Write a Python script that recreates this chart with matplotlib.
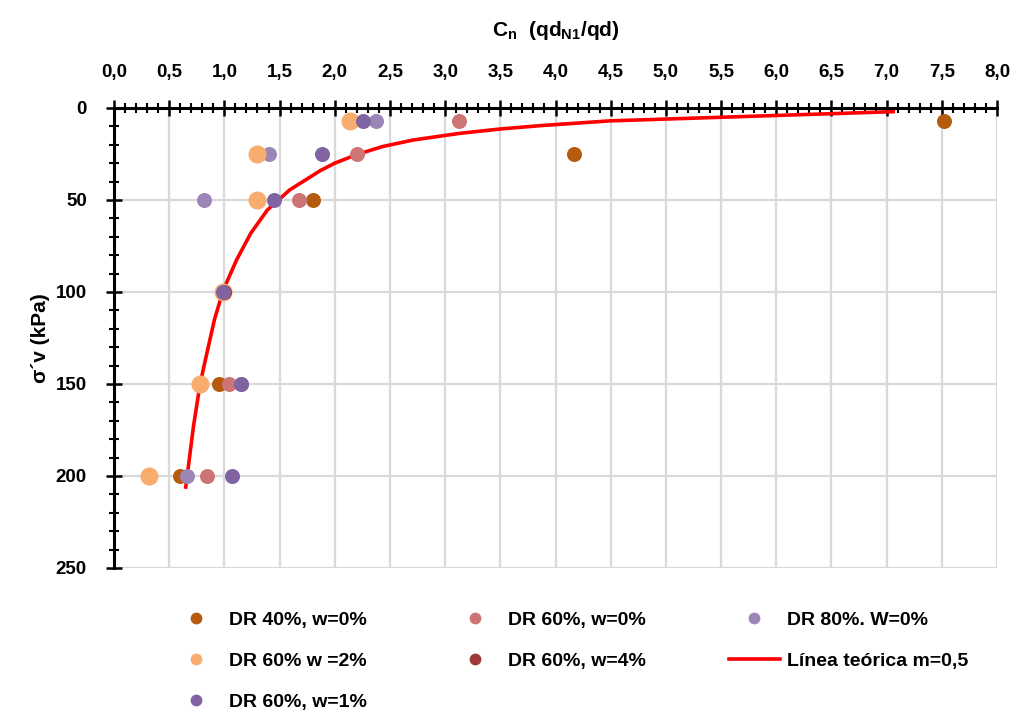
import matplotlib
matplotlib.use("Agg")
import matplotlib.pyplot as plt
from matplotlib import font_manager
from matplotlib.ticker import MultipleLocator, FuncFormatter
from matplotlib.lines import Line2D

names = {f.name for f in font_manager.fontManager.ttflist}
FONT = 'Liberation Sans Narrow' if 'Liberation Sans Narrow' in names else 'Liberation Sans'

plt.rcParams['font.family'] = [FONT, 'DejaVu Sans']
plt.rcParams['font.weight'] = 'bold'
plt.rcParams['mathtext.fontset'] = 'custom'
plt.rcParams['mathtext.rm'] = FONT + ':bold'
plt.rcParams['mathtext.it'] = FONT + ':bold'
plt.rcParams['mathtext.bf'] = FONT + ':bold'

# ---- data ----
sigma = [7, 25, 50, 100, 150, 200]
dr40_w0 = [7.52, 4.17, 1.80, 1.00, 0.95, 0.60]
dr60_w0 = [3.13, 2.20, 1.68, 1.00, 1.045, 0.84]
dr80_w0 = [2.37, 1.40, 0.815, 1.00, 1.15, 0.665]
dr60_w2 = [2.14, 1.30, 1.30, 0.99, 0.776, 0.32]
sigma_w4 = [100]
dr60_w4 = [1.00]
dr60_w1 = [2.26, 1.88, 1.45, 0.99, 1.15, 1.07]

line_sigma = [2, 7, 9.6, 11.4, 13.8, 17.4, 21, 25.5, 30, 34, 44.6, 55.4, 68, 82.6, 99,
              115, 139, 150, 173, 206]
line_cn = [7.06, 4.49, 3.86, 3.50, 3.13, 2.71, 2.43, 2.19, 2.00, 1.87, 1.59, 1.39, 1.24, 1.11, 0.99,
           0.91, 0.82, 0.78, 0.72, 0.65]

labels = ['DR 40%, w=0%', 'DR 60%, w=0%', 'DR 80%. W=0%',
          'DR 60% w =2%', 'DR 60%, w=4%', 'Línea teórica m=0,5', 'DR 60%, w=1%']

c_dr40 = '#B65A0D'
c_dr60w0 = '#CD7574'
c_dr80 = '#9C86B8'
c_w2 = '#F8AD6E'
c_w4 = '#9E3A38'
c_w1 = '#8064A2'
c_line = '#FF0000'

fig = plt.figure(figsize=(10.13, 7.12), dpi=100)
ax = fig.add_axes([114/1013, 1-568/712, (997-114)/1013, (568-108)/712])

ms = 10.8
ax.plot(line_cn, line_sigma, color=c_line, lw=2.6, zorder=2, solid_joinstyle='round')
ax.plot(dr40_w0, sigma, 'o', ms=ms, color=c_dr40, mew=0, zorder=3)
ax.plot(dr60_w0, sigma, 'o', ms=ms, color=c_dr60w0, mew=0, zorder=3)
ax.plot(dr80_w0, sigma, 'o', ms=ms, color=c_dr80, mew=0, zorder=3)
ax.plot(dr60_w2, sigma, 'o', ms=13, color=c_w2, mew=0, zorder=3)
ax.plot(dr60_w4, sigma_w4, 'o', ms=ms, color=c_w4, mew=0, zorder=3)
ax.plot(dr60_w1, sigma, 'o', ms=ms, color=c_w1, mew=0, zorder=3)

lms = 8.5
def mk(c):
    return Line2D([], [], ls='none', marker='o', ms=lms, color=c, mew=0)
h40, h60, h80, h2, h4, h1 = mk(c_dr40), mk(c_dr60w0), mk(c_dr80), mk(c_w2), mk(c_w4), mk(c_w1)
hl = Line2D([], [], color=c_line, lw=2.6)

ax.set_xlim(0, 8)
ax.set_ylim(250, 0)
ax.xaxis.set_ticks_position('top')
ax.xaxis.set_label_position('top')
ax.xaxis.set_major_locator(MultipleLocator(0.5))
ax.xaxis.set_minor_locator(MultipleLocator(0.1))
ax.yaxis.set_major_locator(MultipleLocator(50))
ax.yaxis.set_minor_locator(MultipleLocator(10))
ax.xaxis.set_major_formatter(FuncFormatter(lambda v, p: f"{v:.1f}".replace('.', ',')))
ax.yaxis.set_major_formatter(FuncFormatter(lambda v, p: f"{int(round(v))}"))

for s in ['right', 'bottom']:
    ax.spines[s].set_visible(False)
for s in ['left', 'top']:
    ax.spines[s].set_linewidth(2.2)
    ax.spines[s].set_color('black')

ax.tick_params(which='major', direction='inout', length=11, width=1.8, labelsize=13.5, pad=14)
ax.tick_params(which='minor', direction='inout', length=7.5, width=1.5)
ax.tick_params(axis='y', which='major', pad=14)
ax.grid(True, which='major', color='#D9D9D9', lw=1.6, zorder=0)
ax.set_axisbelow(True)

ax.set_xlabel(r'C$_{n}$  (qd$_{N1}$/qd)', fontsize=15, fontweight='bold', labelpad=20)
ax.set_ylabel('σ´v (kPa)', fontsize=15, fontweight='bold', labelpad=4)

handles = [h40, h2, h1, h60, h4, h80, hl]
labs = [labels[0], labels[3], labels[6], labels[1], labels[4], labels[2], labels[5]]
leg = fig.legend(handles, labs, loc='upper left', bbox_to_anchor=(171/1013, 1-611/712),
                 ncol=3, frameon=False, fontsize=14, handlelength=2.6, handletextpad=0.36,
                 columnspacing=4.3, labelspacing=1.2, borderpad=0, borderaxespad=0)

fig.savefig('out.png', dpi=100)
